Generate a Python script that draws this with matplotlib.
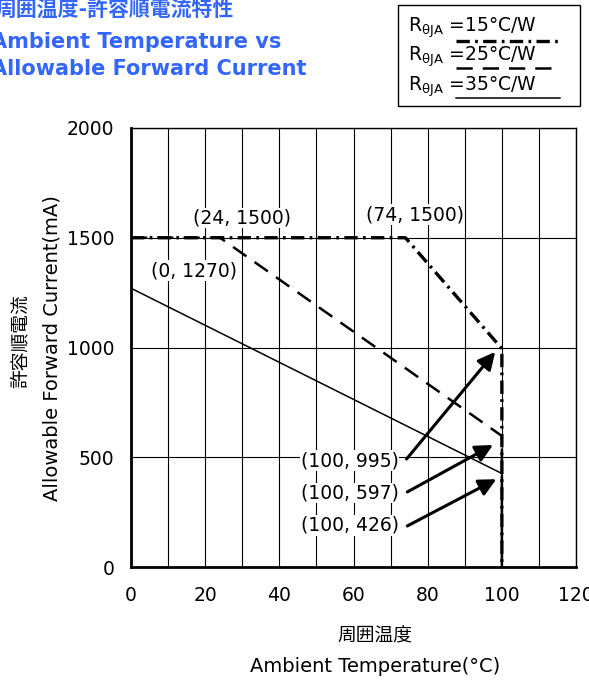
import matplotlib.pyplot as plt
from matplotlib.lines import Line2D
from matplotlib.patches import Rectangle

plt.rcParams['font.family'] = ['DejaVu Sans', 'Noto Sans CJK JP']

# derating curves, one per thermal resistance
temp_15 = [0, 74, 100, 100]
cur_15 = [1500, 1500, 995, 0]
temp_25 = [0, 24, 100, 100]
cur_25 = [1500, 1500, 597, 0]
temp_35 = [0, 100, 100]
cur_35 = [1270, 426, 0]

legend_labels = ['15°C/W', '25°C/W', '35°C/W']
x_ticks = [0, 20, 40, 60, 80, 100, 120]
y_ticks = [0, 500, 1000, 1500, 2000]

style_15 = dict(color='black', lw=2.4, linestyle=(0, (4, 1.6, 0.8, 1.6)))
style_25 = dict(color='black', lw=1.8, linestyle=(0, (6.5, 4)))
style_35 = dict(color='black', lw=1.1, linestyle='-')

fig = plt.figure(figsize=(5.89, 6.84), dpi=100)
ax = fig.add_axes([0.2224, 0.171, 0.7556, 0.6419])

ax.set_xlim(0, 120)
ax.set_ylim(0, 2000)
ax.set_xticks(x_ticks)
ax.set_xticks(range(0, 121, 10), minor=True)
ax.set_yticks(y_ticks)
ax.grid(True, which='both', axis='x', color='black', lw=0.8)
ax.grid(True, axis='y', color='black', lw=0.8)
ax.tick_params(which='both', length=0, labelsize=13.5)
ax.tick_params(axis='x', pad=14)
ax.tick_params(axis='y', pad=12)
for s in ['left', 'bottom']:
    ax.spines[s].set_linewidth(2)
for s in ['top', 'right']:
    ax.spines[s].set_linewidth(1)

ax.plot(temp_35, cur_35, **style_35, zorder=3)
ax.plot(temp_25, cur_25, **style_25, zorder=3)
ax.plot(temp_15, cur_15, **style_15, zorder=3)

box = dict(facecolor='white', edgecolor='none', pad=0.5)
fs = 13.5
ax.text(30, 1590, '(24, 1500)', ha='center', va='center', fontsize=fs, bbox=box)
ax.text(76.5, 1605, '(74, 1500)', ha='center', va='center', fontsize=fs, bbox=box)
ax.text(17, 1350, '(0, 1270)', ha='center', va='center', fontsize=fs, bbox=box)

ax.text(59, 485, '(100, 995)', ha='center', va='center', fontsize=fs, bbox=box)
ax.text(59, 337, '(100, 597)', ha='center', va='center', fontsize=fs, bbox=box)
ax.text(59, 190, '(100, 426)', ha='center', va='center', fontsize=fs, bbox=box)

arrow = dict(arrowstyle='-|>', color='black', lw=2.2, mutation_scale=26,
             shrinkA=0, shrinkB=0)
ax.annotate('', xy=(98.2, 980), xytext=(74.3, 492), arrowprops=arrow)
ax.annotate('', xy=(97.6, 556), xytext=(74.5, 342), arrowprops=arrow)
ax.annotate('', xy=(98.5, 400), xytext=(74.5, 187), arrowprops=arrow)

# axis titles (Japanese above/left of English)
fig.text(0.636, 0.070, '周囲温度', ha='center', va='center', fontsize=13.5)
fig.text(0.637, 0.026, 'Ambient Temperature(°C)', ha='center', va='center', fontsize=14)
fig.text(0.034, 0.5015, '許容順電流', ha='center', va='center', rotation=90, fontsize=13.5)
fig.text(0.088, 0.491, 'Allowable Forward Current(mA)', ha='center', va='center',
         rotation=90, fontsize=14)

# title block
blue = '#3366ff'
fig.text(-0.008, 0.985, '周囲温度-許容順電流特性', ha='left', va='center',
         fontsize=15, color=blue, fontweight='bold')
fig.text(-0.0155, 0.939, 'Ambient Temperature vs', ha='left', va='center',
         fontsize=15, color=blue, fontweight='bold')
fig.text(-0.0155, 0.899, 'Allowable Forward Current', ha='left', va='center',
         fontsize=15, color=blue, fontweight='bold')

# legend box
fig.patches.append(Rectangle((0.676, 0.845), 0.309, 0.148, transform=fig.transFigure,
                             facecolor='white', edgecolor='black', lw=1))
text_y = [0.9532, 0.9108, 0.867]
line_y = [0.9405, 0.901, 0.857]
for lab, st, ty, ly in zip(legend_labels, [style_15, style_25, style_35], text_y, line_y):
    fig.text(0.693, ty, r'R$_{\mathregular{\theta JA}}$ =' + lab, ha='left',
             va='baseline', fontsize=13.5)
    fig.lines.append(Line2D([0.774, 0.950], [ly, ly],
                            transform=fig.transFigure, **st))

fig.savefig('out.png', dpi=100)
